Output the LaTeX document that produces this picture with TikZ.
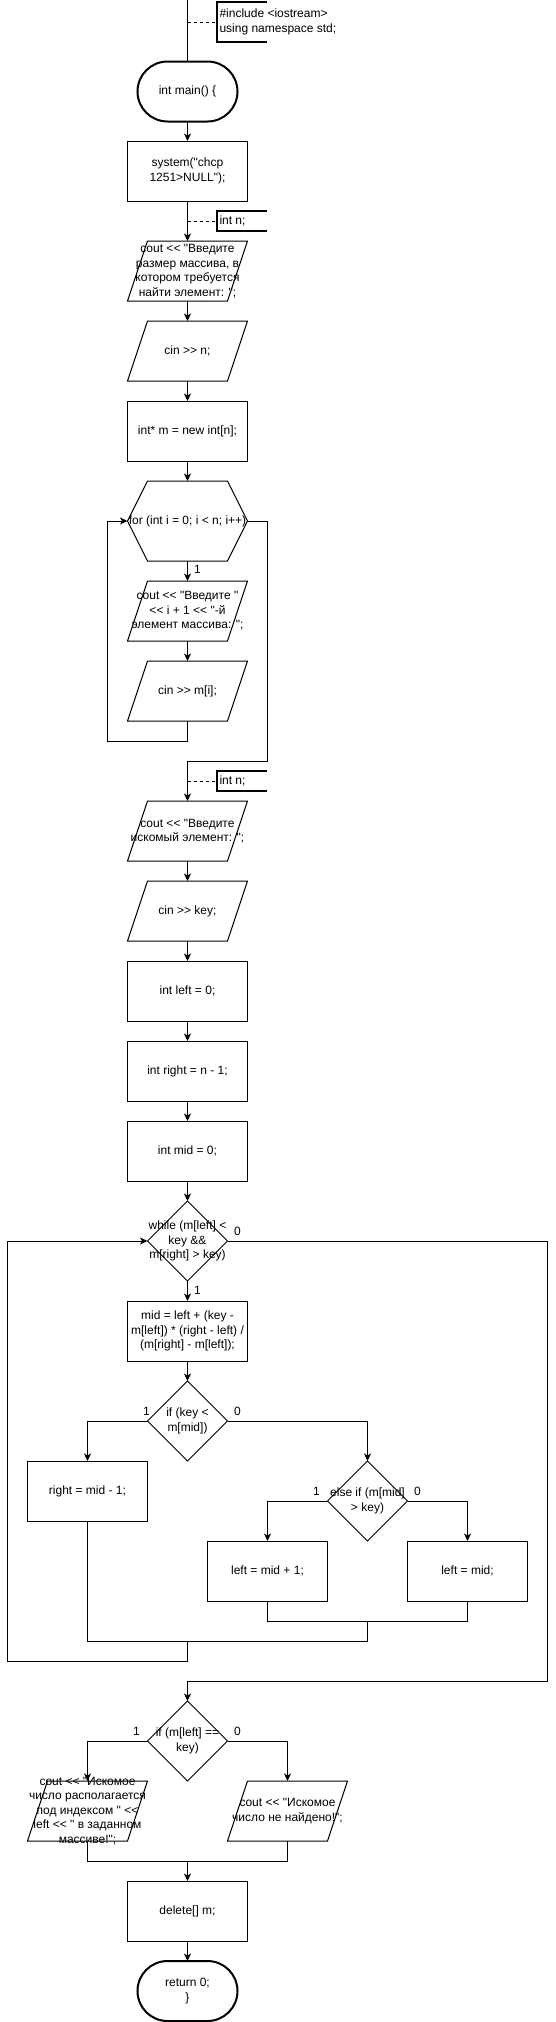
\documentclass[tikz,border=0pt]{standalone}
\usepackage{fontspec}
\setmainfont[Ligatures=TeXOff]{Liberation Sans}
\usetikzlibrary{arrows.meta}
\begin{document}
\begin{tikzpicture}[x=1bp,y=-1bp,
  font=\fontsize{12bp}{14.5bp}\selectfont,
  line width=1bp,
  rectbox/.style={draw, minimum width=120bp, minimum height=60bp, inner sep=0pt, outer sep=0pt},
  shapebox/.style={minimum width=120bp, minimum height=60bp, inner sep=0pt, outer sep=0pt},
  hexbox/.style={minimum width=120bp, minimum height=80bp, inner sep=0pt, outer sep=0pt},
  diabox/.style={minimum width=80bp, minimum height=80bp, inner sep=0pt, outer sep=0pt},
  termbox/.style={draw, line width=2bp, rounded corners=30bp, minimum width=100bp, minimum height=60bp, inner sep=0pt, outer sep=0pt},
  annbox/.style={minimum width=50bp, inner sep=0pt, outer sep=0pt, anchor=west},
  anntxt/.style={anchor=west, align=left, inner sep=2bp},
  lbl/.style={align=center, inner sep=0pt},
  txt/.style={label={[lbl]center:{#1}}},
  elbl/.style={inner sep=0pt},
  arr/.style={-{Stealth[length=7.5bp,width=7bp,inset=2bp]}},
  dline/.style={dash pattern=on 3bp off 3bp},
  brk/.style={line width=2bp}
]
\useasboundingbox (0,0) rectangle (556,2022);

% ---- nodes ----
\node[termbox] (main) at (187.5,91.5) {int main() \{};
\node[rectbox, txt={system("chcp\\1251>NULL");}] (sys) at (187.5,171) {};
\node[shapebox, txt={cout << "Введите\\размер массива, в\\котором требуется\\найти элемент: ";}] (p1) at (187.5,271) {};
\node[shapebox, txt={cin >> n;}] (p2) at (187.5,351) {};
\node[rectbox, txt={int* m = new int[n];}] (arrn) at (187.5,431) {};
\node[hexbox, txt={for (int i = 0; i < n; i++)}] (for) at (187.5,521) {};
\node[shapebox, txt={cout << "Введите "\\<< i + 1 << "-й\\элемент массива: ";}] (p3) at (187.5,611) {};
\node[shapebox, txt={cin >> m[i];}] (p4) at (187.5,691) {};
\node[shapebox, txt={cout << "Введите\\искомый элемент: ";}] (p5) at (187.5,831) {};
\node[shapebox, txt={cin >> key;}] (p6) at (187.5,911) {};
\node[rectbox, txt={int left = 0;}] (r1) at (187.5,991) {};
\node[rectbox, txt={int right = n - 1;}] (r2) at (187.5,1071) {};
\node[rectbox, txt={int mid = 0;}] (r3) at (187.5,1151) {};
\node[diabox, txt={while (m[left] <\\key \&\&\\m[right] > key)}] (wh) at (187.5,1241) {};
\node[rectbox, txt={mid = left + (key -\\m[left]) * (right - left) /\\(m[right] - m[left]);}] (mid) at (187.5,1331) {};
\node[diabox, txt={if (key <\\m[mid])}] (if1) at (187.5,1421) {};
\node[rectbox, txt={right = mid - 1;}] (rmid) at (87.5,1491) {};
\node[diabox, txt={else if (m[mid]\\> key)}] (if2) at (367.5,1501) {};
\node[rectbox, txt={left = mid + 1;}] (lm1) at (267.5,1571) {};
\node[rectbox, txt={left = mid;}] (lm) at (467.5,1571) {};
\node[diabox, txt={if (m[left] ==\\key)}] (if3) at (187.5,1741) {};
\node[shapebox, txt={cout << "Искомое\\число располагается\\под индексом " <<\\left << " в заданном\\массиве!";}] (pf) at (87.5,1811) {};
\node[shapebox, txt={cout << "Искомое\\число не найдено!";}] (pn) at (287.5,1811) {};
\node[rectbox, txt={delete[] m;}] (del) at (187.5,1911) {};
\node[termbox, align=center] (ret) at (187.5,1991) {return 0;\\\}};

% ---- shape outlines ----
\foreach \n in {p1,p2,p3,p4,p5,p6,pf,pn}
  \draw ([xshift=20bp]\n.north west) -- (\n.north east) -- ([xshift=-20bp]\n.south east) -- (\n.south west) -- cycle;
\foreach \n in {wh,if1,if2,if3}
  \draw (\n.north) -- (\n.east) -- (\n.south) -- (\n.west) -- cycle;
\draw ([xshift=20bp]for.north west) -- ([xshift=-20bp]for.north east) -- (for.east)
  -- ([xshift=-20bp]for.south east) -- ([xshift=20bp]for.south west) -- (for.west) -- cycle;

% ---- annotations ----
\node[annbox, minimum height=40bp] (a1) at (217,22) {};
\node[anntxt] (a1t) at (a1.west) {\#include <iostream>\\using namespace std;};
\node[annbox, minimum height=20bp] (a2) at (217,221) {};
\node[anntxt] (a2t) at (a2.west) {int n;};
\node[annbox, minimum height=20bp] (a3) at (217,781) {};
\node[anntxt] (a3t) at (a3.west) {int n;};
\foreach \a in {a1,a2,a3}
  \draw[brk] (\a.north east) -- (\a.north west) -- (\a.south west) -- (\a.south east);
\coordinate (c1) at (187.5,22);
\coordinate (c2) at (187.5,221);
\coordinate (c3) at (187.5,781);
\draw[dline] (c1) -- (a1.west);
\draw[dline] (c2) -- (a2.west);
\draw[dline] (c3) -- (a3.west);

% ---- connectors ----
\coordinate (top) at (187.5,0);
\draw (top) -- (main.north);
\draw[arr] (main.south) -- (sys.north);
\draw[arr] (sys.south) -- (p1.north);
\draw[arr] (p1.south) -- (p2.north);
\draw[arr] (p2.south) -- (arrn.north);
\draw[arr] (arrn.south) -- (for.north);
\draw[arr] (for.south) -- (p3.north);
\draw[arr] (p3.south) -- (p4.north);
\coordinate (lp) at (107.5,741);
\draw[arr] (p4.south) |- (lp) |- (for.west);
\coordinate (fx) at (267.5,761);
\draw[arr] (for.east) -| (fx) -| (p5.north);
\draw[arr] (p5.south) -- (p6.north);
\draw[arr] (p6.south) -- (r1.north);
\draw[arr] (r1.south) -- (r2.north);
\draw[arr] (r2.south) -- (r3.north);
\draw[arr] (r3.south) -- (wh.north);
\draw[arr] (wh.south) -- (mid.north);
\draw[arr] (mid.south) -- (if1.north);
\draw[arr] (if1.west) -| (rmid.north);
\draw[arr] (if1.east) -| (if2.north);
\draw[arr] (if2.west) -| (lm1.north);
\draw[arr] (if2.east) -| (lm.north);
\coordinate (m1) at (367.5,1621);
\coordinate (m2) at (187.5,1641);
\coordinate (m3) at (7.5,1661);
\draw (lm1.south) |- (m1) -| (lm.south);
\draw (m1) |- (m2) -| (rmid.south);
\draw[arr] (m2) |- (m3) |- (wh.west);
\coordinate (wx) at (547.5,1681);
\draw[arr] (wh.east) -| (wx) -| (if3.north);
\draw[arr] (if3.west) -| (pf.north);
\draw[arr] (if3.east) -| (pn.north);
\coordinate (m4) at (187.5,1861);
\draw (pf.south) |- (m4) -| (pn.south);
\draw[arr] (m4) -- (del.north);
\draw[arr] (del.south) -- (ret.north);

% ---- edge labels ----
\node[elbl] (e1) at (197.5,569) {1};
\node[elbl] (e2) at (237.5,1231) {0};
\node[elbl] (e3) at (197.5,1290) {1};
\node[elbl] (e4) at (146.5,1411) {1};
\node[elbl] (e5) at (237.5,1411) {0};
\node[elbl] (e6) at (316.5,1491) {1};
\node[elbl] (e7) at (417.5,1491) {0};
\node[elbl] (e8) at (136.5,1731) {1};
\node[elbl] (e9) at (237.5,1731) {0};
\end{tikzpicture}
\end{document}
